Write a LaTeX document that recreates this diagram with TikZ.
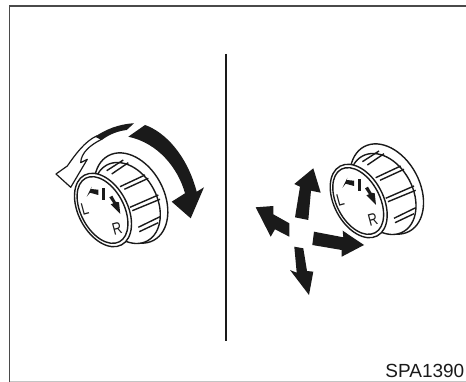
\documentclass[tikz,border=0pt]{standalone}
\usepackage{fontspec}
\setmainfont{Liberation Sans}
\definecolor{cInk}{HTML}{1A1A1A}
\definecolor{cFrame}{HTML}{4A4A4A}
\definecolor{cBase}{HTML}{C4C4C4}
\tikzset{
  frame/.style={draw=cFrame,line width=1.7pt},
  ring/.style={draw=cInk,fill=white,line width=1.4pt},
  rib/.style={draw=cInk,line width=1.4pt},
  hollow arrow/.style={fill=white,draw=cInk,line width=1.2pt,line join=round},
  dial/.style={font=\fontsize{17}{17}\selectfont,text=cInk,inner sep=0pt,rotate=15,xscale=0.75}}
\newcommand{\drawknob}[2]{%
\begin{scope}[shift={(#1,#2)}]
\draw[ring] (28,-12) ellipse [x radius=48pt,y radius=33pt,rotate=-62];
\draw[ring] (24,-7) ellipse [x radius=43pt,y radius=30pt,rotate=-62];
\foreach \ax/\ay/\bx/\by in {3.7/-39.3/20.3/-50, 8.7/-36/25.3/-47.3, 17/-23.3/42/-35, 21.3/-20.7/45.3/-31.7,
  27/-2.7/55.3/-15, 29.3/0.7/57/-10.7, 35.3/17.3/57/6.7, 36.3/21.7/55.3/12.7}
  \draw[rib] (\ax,\ay) -- (\bx,\by);
\draw[ring] (0,0) ellipse [x radius=39.5pt,y radius=24.5pt,rotate=-62];
\draw[ring] (-0.5,0) ellipse [x radius=36pt,y radius=21.5pt,rotate=-62];
\fill[cInk] (-16.3,-13.3) -- (-11.3,-23.3) -- (-12,-21) -- (-4.7,-20.3) -- (-4.7,-15) -- (-13,-17.3) -- cycle;
\fill[cInk] (-0.7,-21.7) -- (2,-21.7) -- (2,-10) -- (-0.7,-10) -- cycle;
\fill[cInk] (6.3,-12.7) -- (9.3,-14.3) -- (12.7,-8.3) -- (16,-7.7) -- (17.3,4) -- (7.7,-5.7) -- (10.3,-6.7) -- cycle;
\node[dial] (lbl#1) at (-18.3,-1) {L};
\node[dial] (rbl#1) at (14,19) {R};
\end{scope}}

\begin{document}
\begin{tikzpicture}[x=1pt,y=-1pt]
\useasboundingbox (0,0) rectangle (466,382);
\fill[white] (0,0) rectangle (466,382);
% page frame
\draw[draw=cBase,line width=1pt] (9.5,381) -- (466,381);
\draw[frame] (9.5,382) -- (9.5,5.7) -- (466,5.7);
\draw[draw=cInk,line width=1.3pt] (226,54) -- (226,341);
% left knob
\drawknob{103}{210}
\draw[hollow arrow] (96.7,136) .. controls (85,141) and (75,155) .. (67.3,166) -- (56,174) -- (70.7,187.3) -- (87.3,159.3) -- (80.7,162.7) .. controls (81,153) and (90,145) .. (101.7,139.3) -- cycle;
\fill[cInk] (134,123.3) .. controls (118,124) and (105,130) .. (95,136.7) -- (101.7,140) .. controls (110,134) and (118,131) .. (126.7,130) -- cycle;
\fill[cInk] (145,125) .. controls (165,132) and (187,155) .. (196.7,191.7) -- (204,187.3) -- (190.7,218.3) -- (171.7,201.7) -- (185,193.3) .. controls (178,168) and (158,143) .. (128.3,136.7) -- cycle;
% right knob
\drawknob{358.7}{201}
\fill[cInk] (313.3,168.3) -- (320.7,192.7) -- (311,190.7) -- (308.3,220) -- (295,217.3) -- (300,186.7) -- (294.3,184) -- cycle;
\fill[cInk] (255.7,207.3) -- (273.3,206) -- (273.3,214.3) -- (289.3,223.3) -- (289.3,236.7) -- (275,229.3) -- (270.7,236.7) -- cycle;
\fill[cInk] (364,245) -- (341.7,256.7) -- (341.7,250) -- (312.3,245) -- (314,231.7) -- (343.3,237.3) -- (342.7,230.7) -- cycle;
\fill[cInk] (309,295) -- (290,270) -- (296.7,272.7) -- (294.3,246.7) -- (303.3,248.3) -- (307,271) -- (313.3,271.7) -- cycle;
\node[anchor=south east,inner sep=0pt,text=cInk,font=\fontsize{19}{19}\selectfont] (code) at (464.5,378) {SPA1390};
\end{tikzpicture}
\end{document}
